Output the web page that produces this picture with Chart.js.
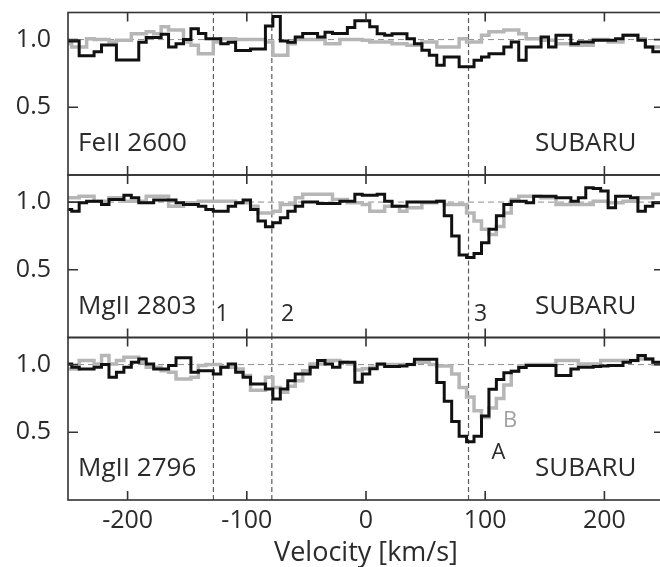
<!DOCTYPE html>
<html>
<head>
<meta charset="utf-8">
<script src="https://cdn.jsdelivr.net/npm/chart.js@4.4.0/dist/chart.umd.min.js"></script>
<style>
  html, body { margin: 0; padding: 0; background: #fff; overflow: hidden; }
  #wrap { position: relative; width: 660px; height: 567px; overflow: hidden; }
  canvas { position: absolute; left: 0; }
</style>
</head>
<body>
<div id="wrap">
  <canvas id="p1" width="680" height="180" style="top:0px"></canvas>
  <canvas id="p2" width="680" height="173" style="top:170px"></canvas>
  <canvas id="p3" width="680" height="235" style="top:332px"></canvas>
</div>
<script>
// velocity bin centres [km/s]
const velocity = [-250, -243.75, -237.5, -231.25, -225, -218.75, -212.5, -206.25, -200, -193.75,
  -187.5, -181.25, -175, -168.75, -162.5, -156.25, -150, -143.75, -137.5, -131.25,
  -125, -118.75, -112.5, -106.25, -100, -93.75, -87.5, -81.25, -75, -68.75,
  -62.5, -56.25, -50, -43.75, -37.5, -31.25, -25, -18.75, -12.5, -6.25,
  0, 6.25, 12.5, 18.75, 25, 31.25, 37.5, 43.75, 50, 56.25,
  62.5, 68.75, 75, 81.25, 87.5, 93.75, 100, 106.25, 112.5, 118.75,
  125, 131.25, 137.5, 143.75, 150, 156.25, 162.5, 168.75, 175, 181.25,
  187.5, 193.75, 200, 206.25, 212.5, 218.75, 225, 231.25, 237.5, 243.75, 250];

// FeII 2600 : image A (black), image B (grey)
const fe2600A = [0.99, 0.99, 0.88, 0.88, 0.91, 0.96, 0.96, 0.85, 0.85, 0.85,
  0.98, 1.015, 1.015, 1.04, 0.945, 0.97, 1.0, 1.08, 1.045, 1.007,
  1.007, 0.97, 0.98, 0.92, 0.92, 0.93, 0.93, 1.1, 1.17, 0.99,
  0.98, 1.02, 1.045, 1.045, 1.02, 1.055, 1.045, 1.045, 1.09, 1.14,
  1.14, 1.094, 1.044, 1.032, 1.044, 1.044, 1.007, 0.97, 0.921, 0.885,
  0.81, 0.872, 0.872, 0.8, 0.8, 0.847, 0.872, 0.896, 0.896, 0.946,
  0.983, 0.847, 0.946, 0.946, 1.02, 0.946, 1.032, 1.032, 0.97, 0.983,
  0.983, 0.995, 0.995, 0.995, 1.007, 1.032, 1.032, 0.995, 0.946, 0.91, 0.91];
const fe2600B = [0.97, 0.946, 0.946, 1.007, 1.0, 1.0, 0.983, 0.995, 0.995, 1.044,
  1.044, 1.057, 1.044, 1.094, 1.07, 1.07, 0.983, 0.958, 0.896, 0.896,
  0.983, 1.007, 1.007, 1.0, 1.0, 1.0, 1.0, 0.983, 0.884, 0.884,
  0.97, 1.0, 1.0, 1.0, 1.0, 0.97, 0.97, 1.0, 1.0, 1.0,
  0.995, 0.983, 0.983, 0.983, 0.97, 0.97, 0.958, 0.958, 0.983, 0.983,
  0.946, 0.946, 0.946, 1.007, 0.983, 0.983, 1.032, 1.057, 1.057, 1.07,
  1.07, 1.044, 1.007, 1.007, 0.995, 0.995, 0.97, 0.97, 0.958, 0.958,
  0.958, 1.0, 1.0, 0.983, 0.983, 1.032, 1.032, 1.007, 0.946, 0.946, 0.946];

// MgII 2803
const mg2803A = [0.946, 0.933, 0.995, 1.007, 1.007, 0.983, 1.02, 1.02, 1.05, 1.032,
  0.995, 0.995, 1.015, 1.015, 1.015, 0.995, 0.983, 0.983, 0.97, 0.946,
  0.933, 0.933, 0.97, 0.995, 1.015, 0.946, 0.86, 0.817, 0.847, 0.884,
  0.933, 0.97, 1.0, 1.0, 0.99, 0.99, 0.99, 1.007, 1.007, 1.057,
  1.05, 1.05, 1.057, 1.007, 0.97, 0.97, 1.0, 1.0, 1.0, 1.0,
  1.007, 0.9, 0.75, 0.61, 0.59, 0.62, 0.7, 0.8, 0.9, 0.983,
  1.007, 1.007, 0.995, 1.044, 1.044, 1.044, 1.032, 1.032, 1.007, 1.032,
  1.106, 1.1, 1.081, 0.958, 1.044, 1.044, 1.032, 0.933, 0.97, 0.995, 0.995];
const mg2803B = [1.032, 1.032, 1.044, 1.044, 1.007, 1.007, 1.032, 1.032, 1.007, 1.007,
  1.007, 1.044, 1.044, 1.044, 0.97, 0.97, 0.995, 0.995, 1.007, 1.007,
  1.007, 1.007, 1.007, 0.995, 0.995, 0.97, 0.92, 0.92, 0.933, 0.983,
  0.983, 1.032, 1.057, 1.057, 1.057, 1.057, 1.02, 1.02, 0.995, 0.995,
  0.983, 0.933, 0.933, 0.97, 0.97, 0.933, 0.958, 0.958, 0.995, 0.995,
  1.007, 0.983, 0.983, 0.983, 0.92, 0.86, 0.8, 0.76, 0.82, 0.92,
  1.02, 1.044, 1.044, 1.044, 1.032, 1.032, 0.983, 0.983, 0.983, 0.983,
  0.983, 1.007, 1.007, 0.995, 0.995, 1.007, 1.007, 1.032, 1.032, 1.057, 1.057];

// MgII 2796
const mg2796A = [1.005, 0.98, 0.968, 0.968, 0.98, 1.0, 0.906, 0.943, 0.98, 1.017,
  1.042, 1.005, 0.968, 0.968, 0.993, 1.05, 1.05, 0.943, 0.955, 0.955,
  0.93, 0.98, 1.005, 0.943, 0.906, 0.857, 0.857, 0.82, 0.745, 0.82,
  0.88, 0.93, 0.93, 0.98, 1.03, 1.005, 0.98, 1.017, 1.017, 0.87,
  0.93, 0.97, 1.005, 0.985, 0.985, 0.99, 1.0, 1.04, 1.04, 1.04,
  0.867, 0.73, 0.58, 0.47, 0.43, 0.47, 0.62, 0.817, 0.89, 0.94,
  0.95, 0.978, 0.993, 0.993, 0.993, 0.993, 0.92, 0.92, 0.968, 0.98,
  0.98, 0.985, 0.99, 0.993, 0.993, 1.017, 1.03, 1.067, 1.042, 1.017, 1.017];
const mg2796B = [0.968, 0.968, 1.03, 1.03, 1.005, 1.067, 1.005, 1.03, 1.054, 1.054,
  1.017, 0.98, 0.98, 0.955, 0.943, 0.894, 0.894, 0.906, 0.993, 1.0,
  1.0, 0.98, 0.98, 0.968, 0.92, 0.81, 0.81, 0.906, 0.83, 0.795,
  0.84, 0.88, 0.955, 1.005, 1.005, 1.03, 1.03, 1.017, 1.005, 0.96,
  0.97, 0.98, 1.0, 1.0, 1.0, 1.0, 1.0, 1.017, 1.017, 1.0,
  0.99, 0.99, 0.93, 0.83, 0.76, 0.66, 0.61, 0.68, 0.75, 0.85,
  0.95, 0.99, 1.0, 1.0, 1.0, 1.0, 1.03, 1.03, 1.03, 1.005,
  1.005, 1.005, 1.03, 1.03, 1.03, 1.03, 1.03, 1.042, 1.042, 1.005, 1.005];

// velocity components (dashed lines) and their labels
const components = [-128, -79, 86];
const componentLabels = ['1', '2', '3'];
const componentLabelX = [-126.3, -71.3, 90.6];

const xTicks = [-200, -100, 0, 100, 200];
const yTicks = [0.5, 1.0];

const TEXT = '#2b2b2b';
const FONT = 'Open Sans';

// frame, inward ticks and in-panel texts
const framePlugin = {
  id: 'frame',
  afterDraw(chart, args, opts) {
    const { ctx, chartArea: a, scales: { x, y } } = chart;
    ctx.save();
    ctx.strokeStyle = '#333';
    ctx.lineWidth = 1.6;
    ctx.strokeRect(a.left, a.top, a.right - a.left, a.bottom - a.top);
    ctx.beginPath();
    xTicks.forEach(t => {
      const px = x.getPixelForValue(t);
      ctx.moveTo(px, a.bottom); ctx.lineTo(px, a.bottom - 9);
      ctx.moveTo(px, a.top); ctx.lineTo(px, a.top + 9);
    });
    yTicks.forEach(t => {
      const py = y.getPixelForValue(t);
      ctx.moveTo(a.left, py); ctx.lineTo(a.left + 10, py);
      ctx.moveTo(a.right, py); ctx.lineTo(a.right - 10, py);
    });
    ctx.stroke();
    ctx.textBaseline = 'alphabetic';
    ctx.textAlign = 'left';
    (opts.texts || []).forEach(t => {
      ctx.fillStyle = t.color || TEXT;
      ctx.font = t.size + 'px "' + FONT + '"';
      ctx.fillText(t.text, x.getPixelForValue(t.x), y.getPixelForValue(t.y));
    });
    ctx.restore();
  }
};

function makePanel(id, a, b, texts, pad, showX) {
  const datasets = [
    {
      data: velocity.map((v, i) => ({ x: v, y: b[i] })),
      borderColor: '#b6b6b6', borderWidth: 3.5, stepped: 'middle', pointRadius: 0, order: 2
    },
    {
      data: velocity.map((v, i) => ({ x: v, y: a[i] })),
      borderColor: '#111', borderWidth: 3, stepped: 'middle', pointRadius: 0, order: 1
    },
    {
      data: [{ x: -250, y: 1 }, { x: 250, y: 1 }],
      borderColor: '#8c8c8c', borderWidth: 1, borderDash: [6, 4], pointRadius: 0, order: 3
    }
  ];
  components.forEach(c => {
    datasets.push({
      data: [{ x: c, y: 0 }, { x: c, y: 1.2 }],
      borderColor: '#5a5a5a', borderWidth: 1.2, borderDash: [5, 3], pointRadius: 0, order: 4
    });
  });

  const xScale = { type: 'linear', min: -250, max: 250, display: false };
  if (showX) {
    Object.assign(xScale, {
      display: true,
      afterBuildTicks: s => { s.ticks = xTicks.map(v => ({ value: v })); },
      afterFit: s => { s.height = 67; s.paddingLeft = 0; s.paddingRight = 0; },
      grid: { display: false, drawTicks: false },
      border: { display: false },
      ticks: { font: { family: FONT, size: 25 }, color: TEXT, padding: 6, maxRotation: 0 },
      title: {
        display: true, text: 'Velocity [km/s]', color: TEXT,
        font: { family: FONT, size: 27, lineHeight: 1 }, padding: 0
      }
    });
  }

  return new Chart(document.getElementById(id), {
    type: 'line',
    data: { datasets },
    options: {
      responsive: false,
      animation: false,
      layout: { padding: { left: 0, right: 16, top: pad[0], bottom: pad[1] } },
      plugins: { legend: { display: false }, tooltip: { enabled: false }, frame: { texts } },
      scales: {
        x: xScale,
        y: {
          min: 0, max: 1.2,
          afterBuildTicks: s => { s.ticks = yTicks.map(v => ({ value: v })); },
          afterFit: s => { s.width = 68; s.paddingTop = 0; s.paddingBottom = 0; },
          grid: { display: false, drawTicks: false },
          border: { display: false },
          ticks: { font: { family: FONT, size: 25 }, color: TEXT, padding: 17, callback: v => v.toFixed(1) }
        }
      }
    },
    plugins: [framePlugin]
  });
}

makePanel('p1', fe2600A, fe2600B, [
  { text: 'FeII 2600', x: -241.6, y: 0.177, size: 26 },
  { text: 'SUBARU', x: 141.8, y: 0.177, size: 26 }
], [12.5, 5], false);

makePanel('p2', mg2803A, mg2803B, [
  { text: 'MgII 2803', x: -241.6, y: 0.177, size: 26 },
  { text: 'SUBARU', x: 141.8, y: 0.177, size: 26 }
].concat(componentLabels.map((t, i) => ({ text: t, x: componentLabelX[i], y: 0.125, size: 23 }))),
[5, 5.5], false);

makePanel('p3', mg2796A, mg2796B, [
  { text: 'MgII 2796', x: -241.6, y: 0.177, size: 26 },
  { text: 'SUBARU', x: 141.8, y: 0.177, size: 26 },
  { text: 'A', x: 105.3, y: 0.30, size: 22 },
  { text: 'B', x: 115, y: 0.54, size: 22, color: '#a0a0a0' }
], [5.5, 0], true);
</script>
</body>
</html>
